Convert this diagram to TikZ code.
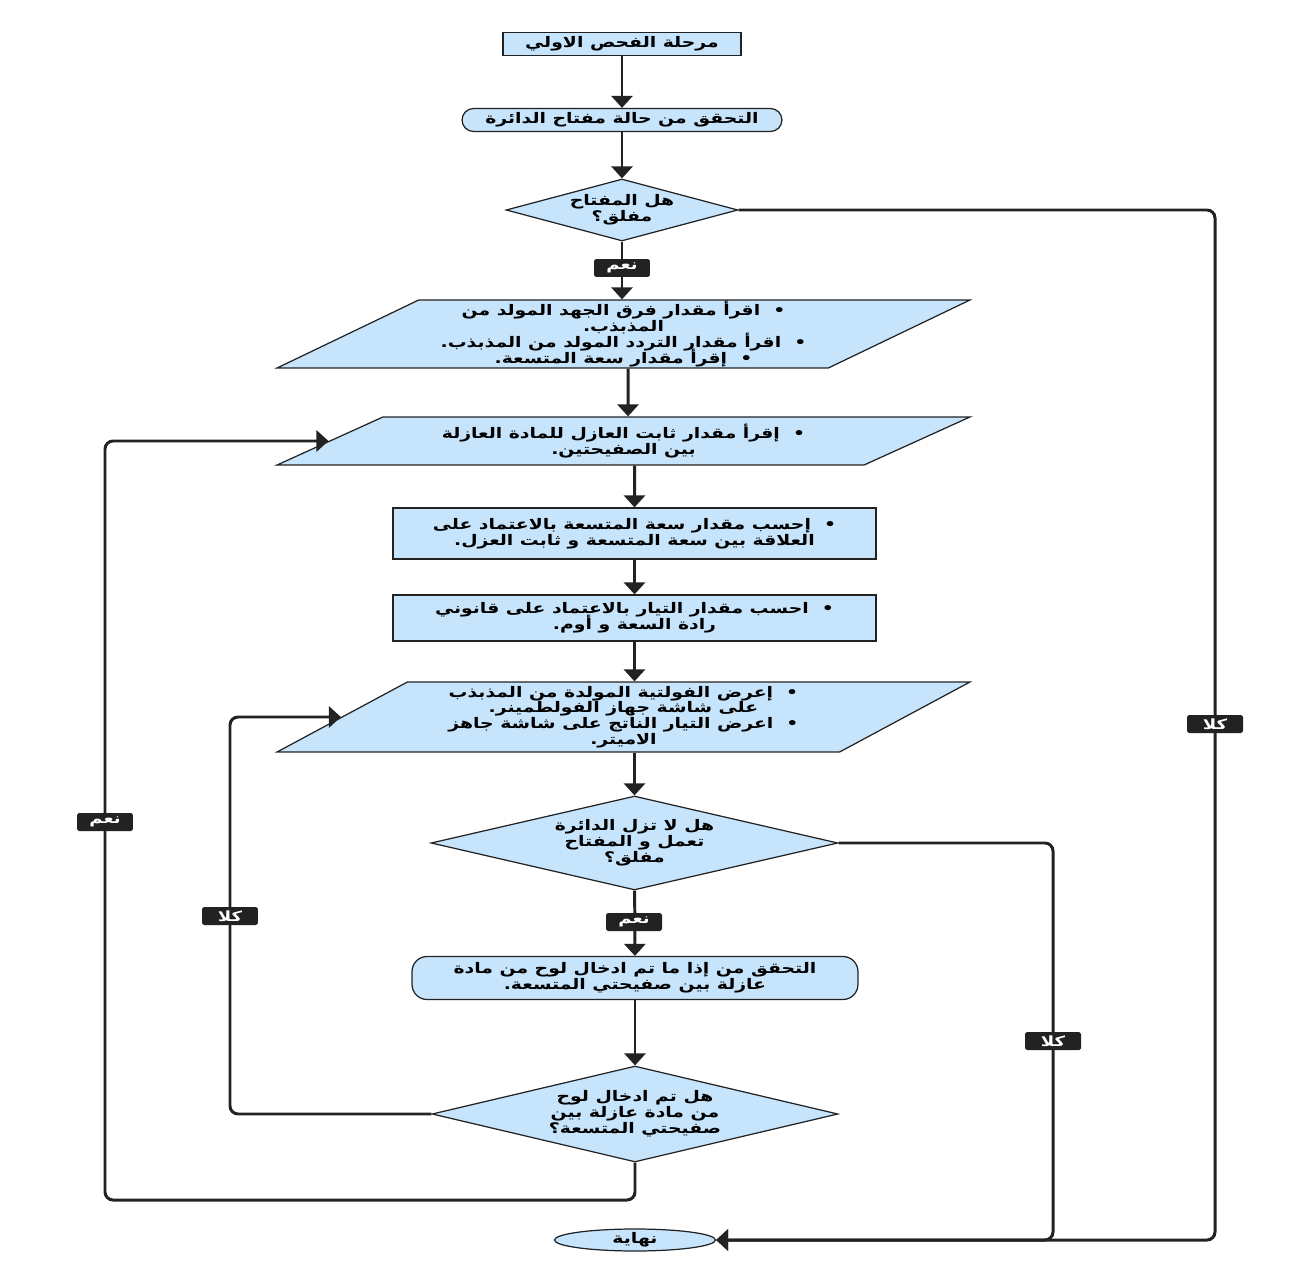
\documentclass[tikz,border=0pt]{standalone}
\usepackage{fontspec}
\newfontfamily\arabicfont[Script=Arabic,FakeStretch=1.29]{DejaVu Sans}
\TeXXeTstate=1
\usetikzlibrary{arrows.meta,shapes.geometric}
\definecolor{BoxBlue}{HTML}{C6E4FB}
\definecolor{Ink}{HTML}{222222}
\newcommand{\arline}[1]{\beginR #1\endR}
\newcommand{\tightlines}{\setlength{\lineskiplimit}{-20pt}\setlength{\lineskip}{0pt}}

\begin{document}
\begin{tikzpicture}[x=0.02cm,y=-0.02cm,
  box/.style={draw=Ink,line width=0.7pt,fill=BoxBlue,align=center,font=\arabicfont\bfseries\fontsize{8.3}{9}\selectfont\tightlines,inner xsep=2pt,inner ysep=0.5pt},
  stage/.style={box,rectangle,minimum width=4.76cm,minimum height=0.46cm},
  pill/.style={box,rectangle,rounded corners=0.23cm,minimum height=0.46cm},
  decide/.style={box,diamond,inner sep=0pt,aspect=#1},
  inout/.style={box,trapezium,trapezium stretches body,minimum width=13.86cm,trapezium left angle=#1,trapezium right angle=180-#1},
  process/.style={box,rectangle,minimum width=9.66cm},
  finish/.style={box,ellipse,minimum width=3.22cm,minimum height=0.44cm,inner sep=0pt},
  tag/.style={fill=Ink,text=white,rounded corners=1pt,minimum width=1.12cm,minimum height=0.36cm,inner sep=1pt,font=\arabicfont\bfseries\fontsize{8}{9}\selectfont},
  arr/.style={-{Triangle[length=0.24cm,width=0.42cm]},draw=Ink,line width=1.7pt,rounded corners=0.16cm}
]
\useasboundingbox (0,0) rectangle (1316,1284);
\node[stage] (start) at (622,44) {\arline{مرحلة الفحص الاولي}};
\node[pill,minimum width=6.4cm] (check) at (622,120) {\arline{التحقق من حالة مفتاح الدائرة}};
\node[decide=3.74,minimum width=4.64cm,minimum height=1.24cm] (closed) at (622,210) {\arline{هل المفتاح}\\\arline{مفلق؟}};
\node[inout=25.4,minimum height=1.36cm] (read) at (623.5,334) {
  \arline{•\ \ اقرأ مقدار فرق الجهد المولد من}\\
  \arline{المذبذب.}\\
  \arline{•\ \ اقرأ مقدار التردد المولد من المذبذب.}\\
  \arline{•\ \ إقرأ مقدار سعة المتسعة.}
};
\node[inout=18.6,minimum height=0.96cm] (dielec) at (623.5,441) {
  \arline{•\ \ إقرأ مقدار ثابت العازل للمادة العازلة}\\
  \arline{بين الصفيحتين.}
};
\node[process,minimum height=1.02cm] (capac) at (634.5,533.5) {
  \arline{•\ \ إحسب مقدار سعة المتسعة بالاعتماد على}\\
  \arline{العلاقة بين سعة المتسعة و ثابت العزل.}
};
\node[process,minimum height=0.92cm] (current) at (634.5,618) {
  \arline{•\ \ احسب مقدار التيار بالاعتماد على قانوني}\\
  \arline{رادة السعة و أوم.}
};
\node[inout=26.1,minimum height=1.4cm] (show) at (623.5,717) {
  \arline{•\ \ إعرض الفولتية المولدة من المذبذب}\\
  \arline{على شاشة جهاز الفولطمينر.}\\
  \arline{•\ \ اعرض التيار الناتج على شاشة جاهز}\\
  \arline{الاميتر.}
};
\node[decide=4.33,minimum width=8.14cm,minimum height=1.88cm] (running) at (634.5,843) {\arline{هل لا تزل الدائرة}\\\arline{تعمل و المفتاح}\\\arline{مفلق؟}};
\node[pill,minimum width=8.92cm,minimum height=0.86cm,rounded corners=0.3cm] (plate) at (635,978) {
  \arline{التحقق من إذا ما تم ادخال لوح من مادة}\\
  \arline{عازلة بين صفيحتي المتسعة.}
};
\node[decide=4.23,minimum width=8.12cm,minimum height=1.92cm] (inserted) at (635,1114) {\arline{هل تم ادخال لوح}\\\arline{من مادة عازلة بين}\\\arline{صفيحتي المتسعة؟}};
\node[finish] (end) at (635,1240) {\arline{نهاية}};

\coordinate (yesBend) at (105,1200);
\coordinate (noBend) at (230,1114);
\coordinate (offBend) at (1053,843);
\coordinate (openBend) at (1215,210);

\draw[arr] (start) -- (check);
\draw[arr] (check) -- (closed);
\draw[arr] (closed.south) -- (closed.south |- read.north);
\draw[arr] ([xshift=0.09cm]read.south) -- ([xshift=0.09cm]dielec.north);
\draw[arr] ([xshift=0.22cm]dielec.south) -- (capac.north);
\draw[arr] (capac) -- (current);
\draw[arr] (current.south) -- (current.south |- show.north);
\draw[arr] (show.south -| running.north) -- (running.north);
\draw[arr] (running) -- (plate);
\draw[arr] (plate) -- (inserted);
\draw[arr] (inserted.south) |- (yesBend) |- (dielec.west);
\draw[arr] (inserted.west) -- (noBend) |- (show.west);
\draw[arr] (running.east) -- (offBend) |- (end.east);
\draw[arr] (closed.east) -- (openBend) |- (end.east);

\node[tag] (yesA) at (622,268) {\arline{نعم}};
\node[tag] (noA) at (1215,724) {\arline{كلا}};
\node[tag] (yesB) at (634,922) {\arline{نعم}};
\node[tag] (noB) at (1053,1041) {\arline{كلا}};
\node[tag] (yesC) at (105,822) {\arline{نعم}};
\node[tag] (noC) at (230,916) {\arline{كلا}};
\end{tikzpicture}
\end{document}
